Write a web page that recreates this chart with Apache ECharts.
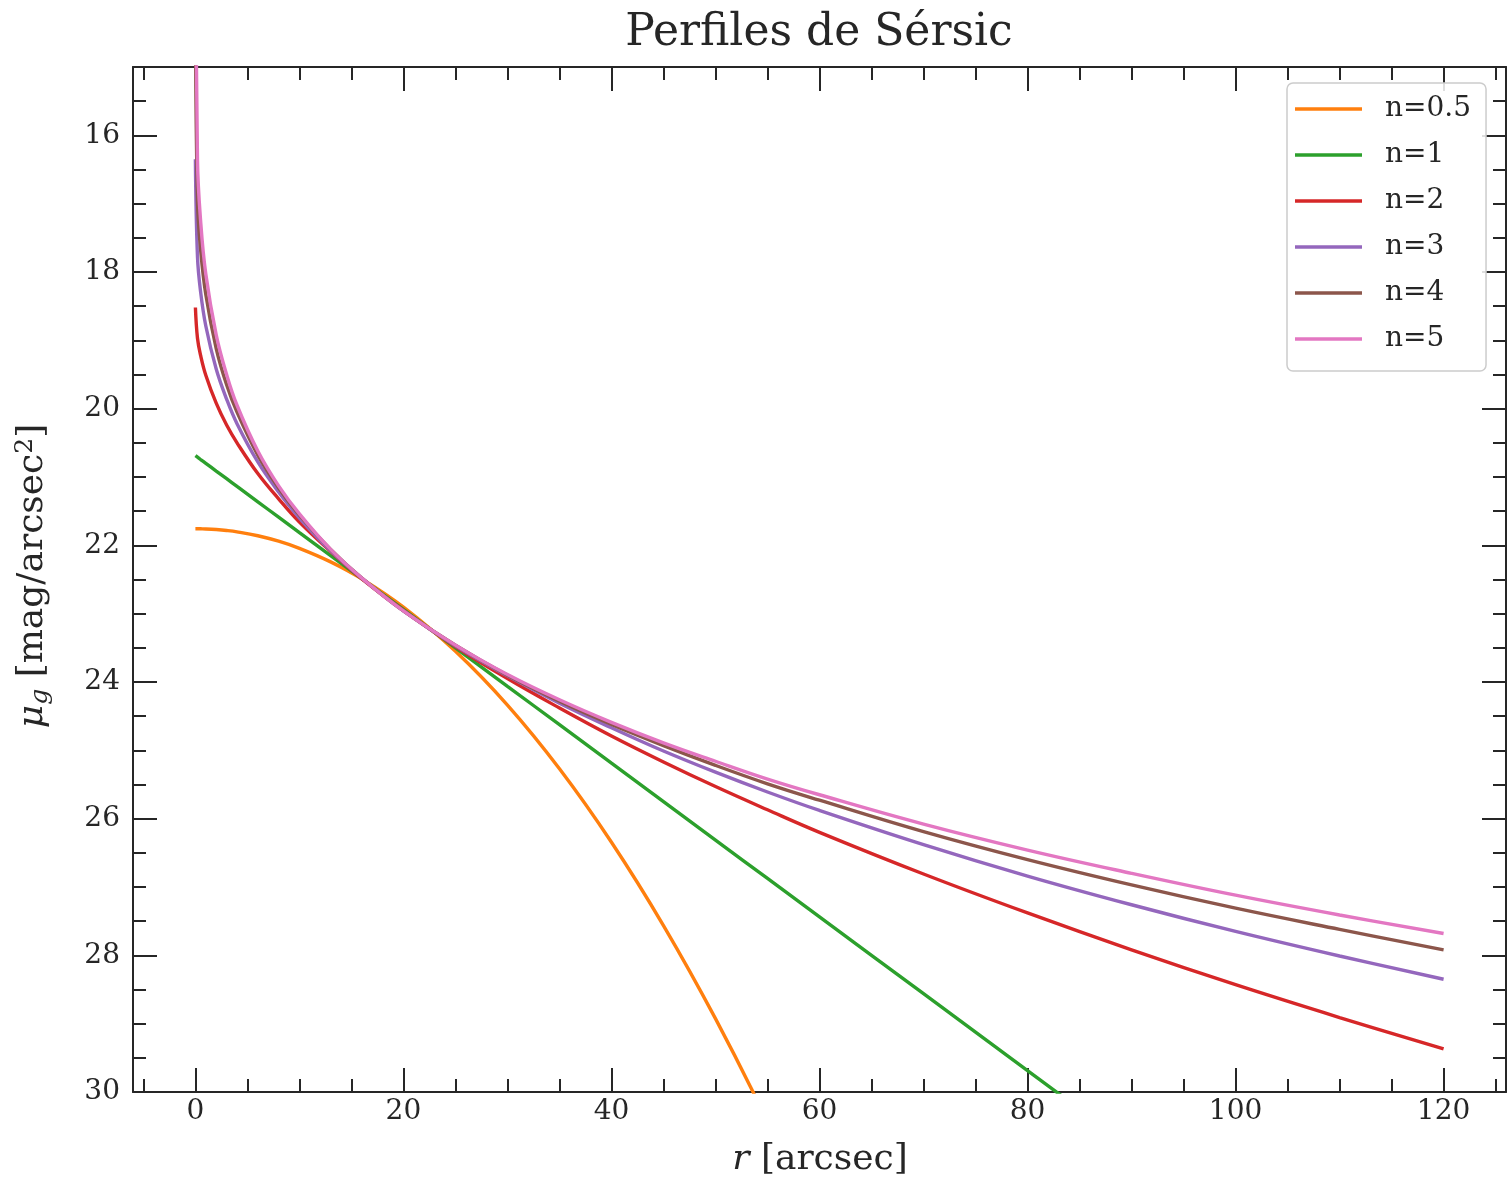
<!DOCTYPE html>
<html>
<head>
<meta charset="utf-8">
<script src="https://cdn.jsdelivr.net/npm/echarts@6/dist/echarts.min.js"></script>
<style>
html,body{margin:0;padding:0;background:#ffffff;}
#chart{width:1508px;height:1182px;}
</style>
</head>
<body>
<div id="chart"></div>
<script>
// ---- data ----
const radius = [0, 0.2, 0.5, 1, 2, 3, 4, 6, 8, 10, 13, 16, 20, 25, 30, 35, 40, 45, 50, 55, 60, 70, 80, 90, 100, 110, 120];

const muN05 = [21.757, 21.757, 21.758, 21.760, 21.769, 21.783, 21.803, 21.860, 21.940, 22.044, 22.242, 22.491, 22.904, 23.550, 24.338, 25.270, 26.345, 27.564, 28.926, 30.432, 32.081];
const muN1  = [20.688, 20.710, 20.744, 20.800, 20.913, 21.025, 21.138, 21.363, 21.588, 21.813, 22.150, 22.488, 22.938, 23.500, 24.063, 24.625, 25.188, 25.750, 26.313, 26.875, 27.437, 28.562, 29.687, 30.812];
const muN2  = [18.52, 18.97, 19.22, 19.51, 19.92, 20.24, 20.50, 20.95, 21.32, 21.66, 22.09, 22.49, 22.95, 23.48, 23.95, 24.38, 24.79, 25.17, 25.53, 25.87, 26.20, 26.81, 27.38, 27.92, 28.43, 28.91, 29.37];
const muN3  = [16.35, 17.78, 18.29, 18.79, 19.42, 19.86, 20.22, 20.78, 21.22, 21.60, 22.08, 22.48, 22.96, 23.47, 23.91, 24.31, 24.67, 25.01, 25.32, 25.61, 25.88, 26.38, 26.84, 27.26, 27.65, 28.01, 28.35];
const muN4  = [14.18, 16.96, 17.67, 18.33, 19.12, 19.65, 20.05, 20.68, 21.16, 21.56, 22.06, 22.48, 22.96, 23.46, 23.90, 24.28, 24.62, 24.93, 25.22, 25.49, 25.73, 26.19, 26.60, 26.97, 27.31, 27.62, 27.92];
const muN5  = [12.01, 16.37, 17.25, 18.03, 18.92, 19.50, 19.95, 20.62, 21.13, 21.54, 22.06, 22.48, 22.96, 23.46, 23.89, 24.26, 24.59, 24.89, 25.16, 25.42, 25.65, 26.08, 26.46, 26.80, 27.12, 27.41, 27.68];

const seriesNames = ['n=0.5', 'n=1', 'n=2', 'n=3', 'n=4', 'n=5'];
const seriesValues = [muN05, muN1, muN2, muN3, muN4, muN5];
const seriesColors = ['#ff7f0e', '#2ca02c', '#d62728', '#9467bd', '#8c564b', '#e377c2'];

const xMajorTicks = [0, 20, 40, 60, 80, 100, 120];
const xMinorTicks = [-5, 5, 10, 15, 25, 30, 35, 45, 50, 55, 65, 70, 75, 85, 90, 95, 105, 110, 115, 125];
const yMajorTicks = [16, 18, 20, 22, 24, 26, 28, 30];
const yMinorTicks = [15.5, 16.5, 17, 17.5, 18.5, 19, 19.5, 20.5, 21, 21.5, 22.5, 23, 23.5, 24.5, 25, 25.5, 26.5, 27, 27.5, 28.5, 29, 29.5];

const titleText = 'Perfiles de Sérsic';
const xLabelText = '{i|r} [arcsec]';
const yLabelText = '{i|μ}{s|g} [mag/arcsec{p|2}]';

const X_MIN = -6, X_MAX = 126, Y_MIN = 15, Y_MAX = 30;

// ---- styling ----
const FONT = 'DejaVu Serif';
const INK = '#262626';
const TICK_FONT = 28;
const LABEL_FONT = 36;

function xAxisDef(position, ticks, len, withLine, withLabels) {
  return {
    type: 'value', position: position, min: X_MIN, max: X_MAX,
    axisLine: { show: withLine, onZero: false, lineStyle: { color: INK, width: 2 } },
    axisTick: { show: true, inside: true, length: len, customValues: ticks, lineStyle: { color: INK, width: 2 } },
    axisLabel: { show: withLabels, customValues: ticks, margin: 6, fontFamily: FONT, fontSize: TICK_FONT, color: INK },
    splitLine: { show: false }, minorTick: { show: false }, minorSplitLine: { show: false }
  };
}
function yAxisDef(position, ticks, len, withLine, withLabels) {
  return {
    type: 'value', position: position, min: Y_MIN, max: Y_MAX, inverse: true,
    axisLine: { show: withLine, onZero: false, lineStyle: { color: INK, width: 2 } },
    axisTick: { show: true, inside: true, length: len, customValues: ticks, lineStyle: { color: INK, width: 2 } },
    axisLabel: { show: withLabels, customValues: ticks, margin: 13, fontFamily: FONT, fontSize: TICK_FONT, color: INK },
    splitLine: { show: false }, minorTick: { show: false }, minorSplitLine: { show: false }
  };
}

const labelRich = {
  i: { fontFamily: FONT, fontSize: LABEL_FONT, fontStyle: 'italic', fill: INK },
  s: { fontFamily: FONT, fontSize: 25, fontStyle: 'italic', fill: INK, padding: [14, 0, 0, 0] },
  p: { fontFamily: FONT, fontSize: 25, fill: INK, padding: [0, 0, 16, 0] }
};

const option = {
  animation: false,
  backgroundColor: '#ffffff',
  grid: { left: 133, right: 2, top: 67, bottom: 90, containLabel: false, outerBoundsMode: 'none' },
  graphic: [
    {
      type: 'text', x: 819, y: 34, silent: true,
      style: { text: titleText, fontFamily: FONT, fontSize: 44, fill: INK, align: 'center', verticalAlign: 'middle' }
    },
    {
      type: 'text', x: 820, y: 1160, silent: true,
      style: { text: xLabelText, fontFamily: FONT, fontSize: LABEL_FONT, fill: INK, align: 'center', verticalAlign: 'middle', rich: labelRich }
    },
    {
      type: 'text', x: 33, y: 576, rotation: Math.PI / 2, silent: true,
      style: { text: yLabelText, fontFamily: FONT, fontSize: LABEL_FONT, fill: INK, align: 'center', verticalAlign: 'middle', rich: labelRich }
    }
  ],
  legend: {
    data: seriesNames, orient: 'vertical', left: 1287, top: 83,
    icon: 'rect', itemWidth: 67, itemHeight: 3.5, itemGap: 18,
    padding: [12, 15, 18, 8],
    backgroundColor: 'rgba(255,255,255,0.85)', borderColor: '#cccccc', borderWidth: 1.5, borderRadius: 6,
    selectedMode: false,
    textStyle: { fontFamily: FONT, fontSize: TICK_FONT, color: INK, padding: [0, 0, 0, 18] }
  },
  xAxis: [
    xAxisDef('bottom', xMajorTicks, 24, true, true),
    xAxisDef('bottom', xMinorTicks, 13, false, false),
    xAxisDef('top', xMajorTicks, 24, true, false),
    xAxisDef('top', xMinorTicks, 13, false, false)
  ],
  yAxis: [
    yAxisDef('left', yMajorTicks, 24, true, true),
    yAxisDef('left', yMinorTicks, 13, false, false),
    yAxisDef('right', yMajorTicks, 24, true, false),
    yAxisDef('right', yMinorTicks, 13, false, false)
  ],
  series: seriesNames.map(function (name, k) {
    return {
      type: 'line', name: name, xAxisIndex: 0, yAxisIndex: 0,
      data: seriesValues[k].map(function (v, i) { return [radius[i], v]; }),
      symbol: 'none', smooth: 0.4, clip: true,
      lineStyle: { width: 3.4, color: seriesColors[k] },
      itemStyle: { color: seriesColors[k] },
      emphasis: { disabled: true }
    };
  })
};

const chart = echarts.init(document.getElementById('chart'), null, { renderer: 'canvas' });
chart.setOption(option);
</script>
</body>
</html>
